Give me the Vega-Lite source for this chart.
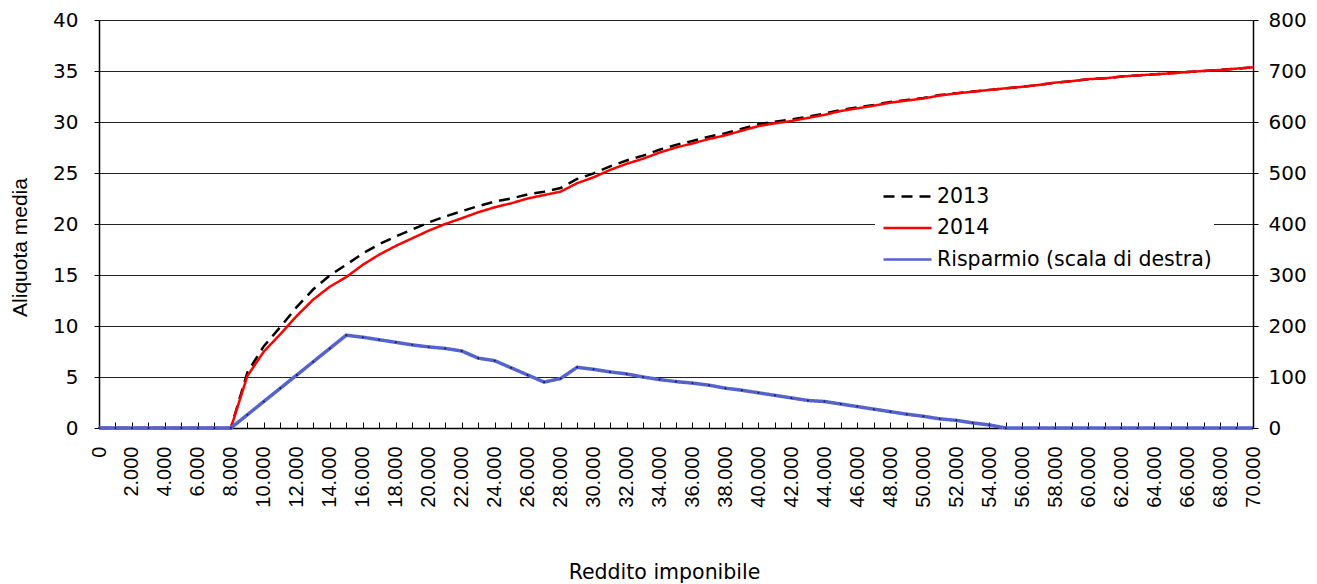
{
 "$schema": "https://vega.github.io/schema/vega-lite/v6.json",
 "width": 1154,
 "height": 408,
 "autosize": {"type": "none"},
 "padding": {"left": 99, "top": 20, "right": 64, "bottom": 156},
 "background": "white",
 "config": {
  "view": {"stroke": null},
  "axis": {"labelFont": "DejaVu Sans", "titleFont": "DejaVu Sans", "labelColor": "#000", "titleColor": "#000", "domainColor": "#000", "tickColor": "#000", "titleFontWeight": "normal", "domainWidth": 1.5, "tickWidth": 1},
  "legend": {"symbolStrokeWidth": 2.5}
 },
 "data": {"values": [
  {"reddito": 0, "a2013": 0, "a2014": 0, "risparmio": 0},
  {"reddito": 1000, "a2013": 0, "a2014": 0, "risparmio": 0},
  {"reddito": 2000, "a2013": 0, "a2014": 0, "risparmio": 0},
  {"reddito": 3000, "a2013": 0, "a2014": 0, "risparmio": 0},
  {"reddito": 4000, "a2013": 0, "a2014": 0, "risparmio": 0},
  {"reddito": 5000, "a2013": 0, "a2014": 0, "risparmio": 0},
  {"reddito": 6000, "a2013": 0, "a2014": 0, "risparmio": 0},
  {"reddito": 7000, "a2013": 0, "a2014": 0, "risparmio": 0},
  {"reddito": 8000, "a2013": 0, "a2014": 0, "risparmio": 0},
  {"reddito": 9000, "a2013": 5.45, "a2014": 5.1, "risparmio": 26},
  {"reddito": 10000, "a2013": 8.02, "a2014": 7.5, "risparmio": 52},
  {"reddito": 11000, "a2013": 9.91, "a2014": 9.2, "risparmio": 78},
  {"reddito": 12000, "a2013": 11.87, "a2014": 11.0, "risparmio": 104},
  {"reddito": 13000, "a2013": 13.6, "a2014": 12.6, "risparmio": 130},
  {"reddito": 14000, "a2013": 14.96, "a2014": 13.85, "risparmio": 156},
  {"reddito": 15000, "a2013": 16.01, "a2014": 14.8, "risparmio": 182},
  {"reddito": 16000, "a2013": 17.11, "a2014": 16.0, "risparmio": 178},
  {"reddito": 17000, "a2013": 18.02, "a2014": 17.0, "risparmio": 173},
  {"reddito": 18000, "a2013": 18.78, "a2014": 17.85, "risparmio": 168},
  {"reddito": 19000, "a2013": 19.46, "a2014": 18.6, "risparmio": 163},
  {"reddito": 20000, "a2013": 20.15, "a2014": 19.35, "risparmio": 159},
  {"reddito": 21000, "a2013": 20.74, "a2014": 20.0, "risparmio": 156},
  {"reddito": 22000, "a2013": 21.25, "a2014": 20.56, "risparmio": 151},
  {"reddito": 23000, "a2013": 21.75, "a2014": 21.15, "risparmio": 137},
  {"reddito": 24000, "a2013": 22.19, "a2014": 21.64, "risparmio": 132},
  {"reddito": 25000, "a2013": 22.5, "a2014": 22.03, "risparmio": 118},
  {"reddito": 26000, "a2013": 22.9, "a2014": 22.5, "risparmio": 104},
  {"reddito": 27000, "a2013": 23.17, "a2014": 22.84, "risparmio": 90},
  {"reddito": 28000, "a2013": 23.52, "a2014": 23.17, "risparmio": 97},
  {"reddito": 29000, "a2013": 24.41, "a2014": 24.0, "risparmio": 119},
  {"reddito": 30000, "a2013": 24.96, "a2014": 24.58, "risparmio": 115},
  {"reddito": 31000, "a2013": 25.65, "a2014": 25.3, "risparmio": 110},
  {"reddito": 32000, "a2013": 26.23, "a2014": 25.9, "risparmio": 106},
  {"reddito": 33000, "a2013": 26.7, "a2014": 26.4, "risparmio": 100},
  {"reddito": 34000, "a2013": 27.28, "a2014": 27.0, "risparmio": 95},
  {"reddito": 35000, "a2013": 27.76, "a2014": 27.5, "risparmio": 91},
  {"reddito": 36000, "a2013": 28.14, "a2014": 27.9, "risparmio": 88},
  {"reddito": 37000, "a2013": 28.56, "a2014": 28.33, "risparmio": 84},
  {"reddito": 38000, "a2013": 28.9, "a2014": 28.7, "risparmio": 78},
  {"reddito": 39000, "a2013": 29.34, "a2014": 29.15, "risparmio": 74},
  {"reddito": 40000, "a2013": 29.77, "a2014": 29.6, "risparmio": 69},
  {"reddito": 41000, "a2013": 30.03, "a2014": 29.87, "risparmio": 64},
  {"reddito": 42000, "a2013": 30.24, "a2014": 30.1, "risparmio": 59},
  {"reddito": 43000, "a2013": 30.53, "a2014": 30.4, "risparmio": 54},
  {"reddito": 44000, "a2013": 30.82, "a2014": 30.7, "risparmio": 52},
  {"reddito": 45000, "a2013": 31.18, "a2014": 31.08, "risparmio": 47},
  {"reddito": 46000, "a2013": 31.43, "a2014": 31.34, "risparmio": 42},
  {"reddito": 47000, "a2013": 31.68, "a2014": 31.6, "risparmio": 37},
  {"reddito": 48000, "a2013": 31.97, "a2014": 31.9, "risparmio": 32},
  {"reddito": 49000, "a2013": 32.16, "a2014": 32.1, "risparmio": 27},
  {"reddito": 50000, "a2013": 32.35, "a2014": 32.3, "risparmio": 23},
  {"reddito": 51000, "a2013": 32.64, "a2014": 32.6, "risparmio": 18},
  {"reddito": 52000, "a2013": 32.83, "a2014": 32.8, "risparmio": 15},
  {"reddito": 53000, "a2013": 32.99, "a2014": 32.97, "risparmio": 10},
  {"reddito": 54000, "a2013": 33.15, "a2014": 33.14, "risparmio": 6},
  {"reddito": 55000, "a2013": 33.3, "a2014": 33.3, "risparmio": 0},
  {"reddito": 56000, "a2013": 33.45, "a2014": 33.45, "risparmio": 0},
  {"reddito": 57000, "a2013": 33.63, "a2014": 33.63, "risparmio": 0},
  {"reddito": 58000, "a2013": 33.86, "a2014": 33.86, "risparmio": 0},
  {"reddito": 59000, "a2013": 34.0, "a2014": 34.0, "risparmio": 0},
  {"reddito": 60000, "a2013": 34.2, "a2014": 34.2, "risparmio": 0},
  {"reddito": 61000, "a2013": 34.28, "a2014": 34.28, "risparmio": 0},
  {"reddito": 62000, "a2013": 34.45, "a2014": 34.45, "risparmio": 0},
  {"reddito": 63000, "a2013": 34.57, "a2014": 34.57, "risparmio": 0},
  {"reddito": 64000, "a2013": 34.67, "a2014": 34.67, "risparmio": 0},
  {"reddito": 65000, "a2013": 34.77, "a2014": 34.77, "risparmio": 0},
  {"reddito": 66000, "a2013": 34.9, "a2014": 34.9, "risparmio": 0},
  {"reddito": 67000, "a2013": 35.0, "a2014": 35.0, "risparmio": 0},
  {"reddito": 68000, "a2013": 35.1, "a2014": 35.1, "risparmio": 0},
  {"reddito": 69000, "a2013": 35.23, "a2014": 35.23, "risparmio": 0},
  {"reddito": 70000, "a2013": 35.36, "a2014": 35.36, "risparmio": 0}
 ]},
 "encoding": {
  "x": {"field": "reddito", "type": "quantitative", "scale": {"domain": [0, 70000], "nice": false},
   "axis": {"title": "Reddito imponibile", "titleFontSize": 20.5, "titleX": 565, "titleY": 150, "titleBaseline": "alphabetic", "grid": false,
    "values": [0,1000,2000,3000,4000,5000,6000,7000,8000,9000,10000,11000,12000,13000,14000,15000,16000,17000,18000,19000,20000,21000,22000,23000,24000,25000,26000,27000,28000,29000,30000,31000,32000,33000,34000,35000,36000,37000,38000,39000,40000,41000,42000,43000,44000,45000,46000,47000,48000,49000,50000,51000,52000,53000,54000,55000,56000,57000,58000,59000,60000,61000,62000,63000,64000,65000,66000,67000,68000,69000,70000],
    "labelExpr": "datum.value % 2000 == 0 ? (datum.value == 0 ? '0' : replace(format(datum.value, ',d'), ',', '.')) : ''",
    "labelAngle": -90, "labelFont": "Liberation Sans", "labelFontSize": 20, "labelPadding": 24, "tickSize": -6, "labelOverlap": false, "labelBound": false, "labelFlush": false}}
 },
 "layer": [
  {
   "transform": [{"fold": ["a2013", "a2014"], "as": ["serie", "val"]}],
   "mark": {"type": "line", "strokeWidth": 2.5},
   "encoding": {
    "y": {"field": "val", "type": "quantitative", "scale": {"domain": [0, 40], "nice": false},
     "axis": {"title": "Aliquota media", "titleFont": "Liberation Sans", "titleFontSize": 21, "titleX": -79, "titleY": 227, "titleAngle": -90, "titleBaseline": "middle", "values": [0,5,10,15,20,25,30,35,40], "labelFontSize": 20, "tickSize": 5, "labelPadding": 16, "grid": true, "gridColor": "#222", "gridWidth": 1, "gridOpacity": 1}},
    "color": {"field": "serie", "type": "nominal", "scale": {"domain": ["a2013", "a2014", "risparmio"], "range": ["#000000", "#ff0000", "#5563cc"]},
     "legend": {"title": null, "orient": "none", "legendX": 776, "legendY": 157, "fillColor": "white", "padding": 2, "symbolType": "M-1.5,0H1.5", "symbolSize": 1024, "symbolOffset": 13, "symbolFillColor": "transparent", "labelFont": "DejaVu Sans", "labelFontSize": 20.5, "labelColor": "#000", "labelLimit": 400, "rowPadding": 3.5, "labelOffset": 12,
      "labelExpr": "datum.label == 'a2013' ? '2013' : datum.label == 'a2014' ? '2014' : 'Risparmio (scala di destra)'"}},
    "strokeDash": {"field": "serie", "type": "nominal", "scale": {"domain": ["a2013", "a2014", "risparmio"], "range": [[11, 7], [1, 0], [1, 0]]},
     "legend": {"title": null, "orient": "none", "legendX": 776, "legendY": 157, "fillColor": "white", "padding": 2, "symbolType": "M-1.5,0H1.5", "symbolSize": 1024, "symbolOffset": 13, "symbolFillColor": "transparent", "labelFont": "DejaVu Sans", "labelFontSize": 20.5, "labelColor": "#000", "labelLimit": 400, "rowPadding": 3.5, "labelOffset": 12,
      "labelExpr": "datum.label == 'a2013' ? '2013' : datum.label == 'a2014' ? '2014' : 'Risparmio (scala di destra)'"}}
   }
  },
  {
   "transform": [{"fold": ["risparmio"], "as": ["serie", "rval"]}],
   "mark": {"type": "line", "strokeWidth": 3.5},
   "encoding": {
    "y": {"field": "rval", "type": "quantitative", "scale": {"domain": [0, 800], "nice": false},
     "axis": {"orient": "right", "title": null, "values": [0,100,200,300,400,500,600,700,800], "labelFontSize": 20, "tickSize": 5, "labelPadding": 10, "grid": false}},
    "color": {"field": "serie", "type": "nominal"},
    "strokeDash": {"field": "serie", "type": "nominal"}
   }
  },
  {
   "mark": {"type": "point", "filled": true, "size": 4, "color": "#1c1c50", "opacity": 1},
   "encoding": {
    "y": {"field": "risparmio", "type": "quantitative", "scale": {"domain": [0, 800], "nice": false}, "axis": null}
   }
  }
 ],
 "resolve": {"scale": {"y": "independent"}}
}
